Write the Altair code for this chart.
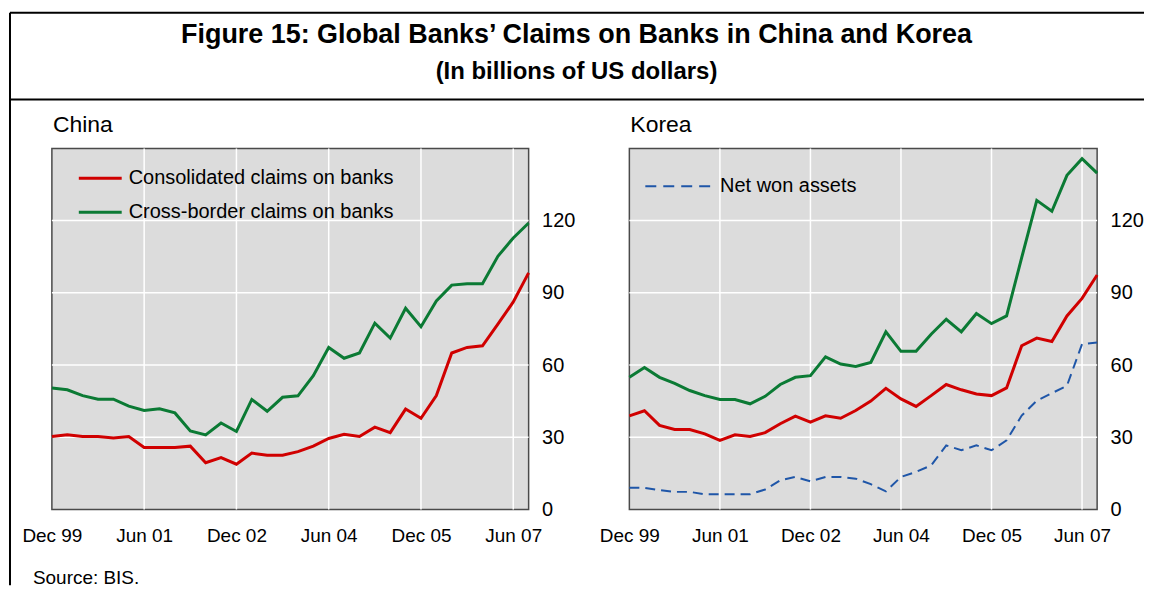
import altair as alt
import pandas as pd

# ---------------- data ----------------
quarter_labels = ["Dec 99", "Mar 00", "Jun 00", "Sep 00", "Dec 00", "Mar 01", "Jun 01", "Sep 01",
                  "Dec 01", "Mar 02", "Jun 02", "Sep 02", "Dec 02", "Mar 03", "Jun 03", "Sep 03",
                  "Dec 03", "Mar 04", "Jun 04", "Sep 04", "Dec 04", "Mar 05", "Jun 05", "Sep 05",
                  "Dec 05", "Mar 06", "Jun 06", "Sep 06", "Dec 06", "Mar 07", "Jun 07", "Sep 07"]
tick_labels = ["Dec 99", "Jun 01", "Dec 02", "Jun 04", "Dec 05", "Jun 07"]
y_ticks = [0, 30, 60, 90, 120]

series_names = ["Consolidated claims on banks", "Cross-border claims on banks", "Net won assets"]
series_colors = ["#d00000", "#0b7a34", "#1f56a8"]

china_consolidated = [30.3, 31.0, 30.3, 30.3, 29.7, 30.3, 25.7, 25.7, 25.7, 26.3, 19.4, 21.5, 18.8, 23.4,
                      22.5, 22.5, 24.0, 26.3, 29.5, 31.2, 30.3, 34.2, 31.9, 41.7, 37.9, 47.3, 65.0, 67.3,
                      68.0, 77.0, 86.2, 98.3]
china_crossborder = [50.5, 49.7, 47.3, 45.8, 45.8, 42.9, 41.1, 41.8, 40.1, 32.6, 31.0, 35.9, 32.4, 45.7,
                     40.8, 46.6, 47.2, 55.6, 67.3, 62.8, 65.0, 77.4, 71.2, 83.6, 75.9, 86.6, 93.2, 93.8,
                     93.8, 105.2, 112.8, 119.0]
korea_consolidated = [38.9, 41.0, 34.9, 33.2, 33.2, 31.4, 28.7, 31.0, 30.3, 31.9, 35.6, 38.8, 36.3, 38.9,
                      37.9, 41.1, 45.0, 50.3, 45.9, 42.8, 47.3, 51.9, 49.7, 48.0, 47.3, 50.5, 68.0, 71.2,
                      69.8, 80.4, 87.7, 97.4]
korea_crossborder = [54.9, 59.0, 54.9, 52.4, 49.4, 47.3, 45.7, 45.7, 43.9, 47.0, 51.9, 54.9, 55.6, 63.4,
                     60.4, 59.4, 61.1, 73.8, 65.7, 65.7, 72.8, 79.0, 73.8, 81.4, 77.2, 80.4, 104.6, 128.4,
                     123.9, 138.8, 145.7, 139.7]
korea_net_won = [9.0, 9.0, 8.0, 7.3, 7.3, 6.3, 6.3, 6.3, 6.3, 8.3, 12.1, 13.5, 11.7, 13.5, 13.5, 12.8,
                 10.5, 7.5, 13.5, 15.6, 18.3, 26.6, 24.6, 26.6, 24.6, 28.7, 39.0, 45.2, 48.3, 51.4,
                 68.7, 69.4]

title_line1 = "Figure 15: Global Banks’ Claims on Banks in China and Korea"
title_line2 = "(In billions of US dollars)"
source_text = "Source: BIS."

FONT = "Liberation Sans"

# ---------------- helpers ----------------
n = len(quarter_labels)
tick_pos = [quarter_labels.index(t) for t in tick_labels]
label_expr = ("[" + ",".join("'%s'" % t for t in tick_labels) + "][indexof(["
              + ",".join(str(p) for p in tick_pos) + "], datum.value)]")


def long_df(series):
    rows = []
    for name, vals in series:
        for i, v in enumerate(vals):
            rows.append({"t": i, "quarter": quarter_labels[i], "series": name, "value": v})
    return pd.DataFrame(rows)


x_scale = alt.Scale(domain=[0, n - 1], nice=False, zero=False)
y_scale = alt.Scale(domain=[0, 150], nice=False)
color_scale = alt.Scale(domain=series_names, range=series_colors)

x_axis = alt.Axis(values=tick_pos, labelExpr=label_expr, grid=False, domain=False, ticks=False,
                  labelPadding=17, labelFontSize=19, labelFont=FONT, labelColor="black",
                  labelOverlap=False, labelFlush=False, title=None)
y_axis = alt.Axis(values=y_ticks, orient="right", grid=False, domain=False, ticks=False,
                  labelPadding=13, labelFontSize=20, labelFont=FONT, labelColor="black",
                  labelOverlap=False, title=None)

one = pd.DataFrame({"k": [0]})
view_bg = alt.ViewBackground(fill="#dcdcdc", stroke="#4a4a4a", strokeWidth=1.5)


def grid_layers():
    gx = alt.Chart(pd.DataFrame({"t": [p for p in tick_pos if p > 0]})).mark_rule(
        color="white", strokeWidth=1.5).encode(x=alt.X("t:Q", scale=x_scale, axis=x_axis))
    gy = alt.Chart(pd.DataFrame({"v": [v for v in y_ticks if v > 0]})).mark_rule(
        color="white", strokeWidth=1.5).encode(y=alt.Y("v:Q", scale=y_scale, axis=y_axis))
    return [gx, gy]


def legend_item(name, color, x1, x2, y, tx, dash=None):
    kw = dict(color=color, strokeWidth=3)
    if dash:
        kw = dict(color=color, strokeWidth=2, strokeDash=dash)
    r = alt.Chart(one).mark_rule(**kw).encode(x=alt.value(x1), x2=alt.value(x2), y=alt.value(y))
    t = alt.Chart(pd.DataFrame({"label": [name]})).mark_text(
        align="left", baseline="middle", fontSize=20, font=FONT, color="black").encode(
        x=alt.value(tx), y=alt.value(y), text="label:N")
    return [r, t]


def text_item(txt, x, y, size, align="left", weight="normal"):
    return alt.Chart(pd.DataFrame({"label": [txt]})).mark_text(
        align=align, baseline="middle", fontSize=size, font=FONT, fontWeight=weight,
        color="black").encode(x=alt.value(x), y=alt.value(y), text="label:N")


def frame_rule(x1, x2, y1, y2):
    return alt.Chart(one).mark_rule(color="black", strokeWidth=2).encode(
        x=alt.value(x1), x2=alt.value(x2), y=alt.value(y1), y2=alt.value(y2))


# ---------------- China panel ----------------
china_df = long_df([(series_names[0], china_consolidated), (series_names[1], china_crossborder)])
china_lines = alt.Chart(china_df).mark_line(strokeWidth=3).encode(
    x=alt.X("t:Q", scale=x_scale, axis=x_axis),
    y=alt.Y("value:Q", scale=y_scale, axis=y_axis),
    color=alt.Color("series:N", scale=color_scale, legend=None),
    tooltip=["quarter:N", "series:N", "value:Q"],
)

china_layers = grid_layers() + [china_lines]
china_layers += legend_item(series_names[0], series_colors[0], 27, 70, 30, 77)
china_layers += legend_item(series_names[1], series_colors[1], 27, 70, 64, 77)
china_layers += [
    text_item("China", 1, -23, 23),
    text_item(title_line1, 526, -114, 27, align="center", weight="bold"),
    text_item(title_line2, 526, -77, 24, align="center", weight="bold"),
    text_item(source_text, -19, 431, 19),
    frame_rule(-42, 1095, -136, -136),
    frame_rule(-42, 1095, -49, -49),
    frame_rule(-42, -42, -136, 438),
]
china = alt.layer(*china_layers).properties(width=478, height=362, view=view_bg)

# ---------------- Korea panel ----------------
korea_df = long_df([(series_names[0], korea_consolidated), (series_names[1], korea_crossborder)])
korea_won_df = long_df([(series_names[2], korea_net_won)])
korea_lines = alt.Chart(korea_df).mark_line(strokeWidth=3).encode(
    x=alt.X("t:Q", scale=x_scale, axis=x_axis),
    y=alt.Y("value:Q", scale=y_scale, axis=y_axis),
    color=alt.Color("series:N", scale=color_scale, legend=None),
    tooltip=["quarter:N", "series:N", "value:Q"],
)
korea_won = alt.Chart(korea_won_df).mark_line(strokeWidth=2, strokeDash=[10, 6]).encode(
    x=alt.X("t:Q", scale=x_scale, axis=x_axis),
    y=alt.Y("value:Q", scale=y_scale, axis=y_axis),
    color=alt.Color("series:N", scale=color_scale, legend=None),
    tooltip=["quarter:N", "series:N", "value:Q"],
)
korea_layers = grid_layers() + [korea_lines, korea_won]
korea_layers += legend_item(series_names[2], series_colors[2], 16, 87, 38, 91, dash=[11, 7])
korea_layers += [text_item("Korea", 1, -23, 23)]
korea = alt.layer(*korea_layers).properties(width=469, height=362, view=view_bg)

chart = alt.hconcat(china, korea, spacing=101, bounds="flush").properties(
    padding={"left": 0, "top": 2, "right": 0, "bottom": 0}
).configure(font=FONT)

chart.save("out.html", embed_options={"renderer": "svg", "actions": False})
